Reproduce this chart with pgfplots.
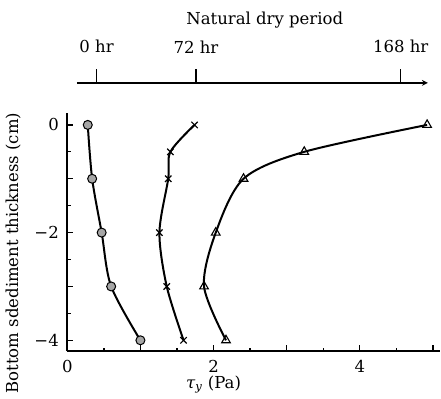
\documentclass[border=0pt]{standalone}
\usepackage{fontspec}
\setmainfont{DejaVu Serif}
\usepackage{pgfplots}
\pgfplotsset{compat=1.18}
\begin{document}
\begin{tikzpicture}[font=\fontsize{16.5}{19}\selectfont]
\begin{axis}[
  scale only axis, width=373pt, height=238pt,
  xmin=0, xmax=5.1, ymin=-4.2, ymax=0.22,
  axis x line*=bottom, axis y line*=left,
  axis line style={line width=1.6pt,-},
  xtick={0,1,2,3,4,5}, xticklabels={},
  ytick={-4,-2,0}, yticklabels={−4,−2,0},
  extra y ticks={-3,-1}, extra y tick labels={},
  minor xtick={0.5,1.5,2.5,3.5,4.5},
  minor ytick={-3.5,-2.5,-1.5,-0.5},
  tick align=inside,
  major tick length=6pt, minor tick length=3.5pt,
  every tick/.style={black, line width=1.3pt},
  tick label style={font=\fontsize{16.5}{19}\selectfont},
  yticklabel style={xshift=-5pt},
  /pgf/number format/assume math mode=true,
  xlabel={\textit{τ}\textsubscript{\textit{y}} (Pa)},
  xlabel style={at={(axis cs:2,-4.2)}, anchor=north, yshift=-21pt},
  ylabel={Bottom sdediment thickness (cm)},
  ylabel style={at={(axis cs:-0.74,-2.38)}, anchor=center, rotate=0},
  clip=false,
]
\addplot[black, line width=2pt, smooth, mark=*, mark size=4.5pt, mark options={fill=gray!70, draw=black, line width=1pt}]
  coordinates {(0.28,0) (0.34,-1) (0.47,-2) (0.60,-3) (1.0,-4)};
\addplot[black, line width=2pt, smooth, mark=x, mark size=4.5pt, mark options={line width=1.2pt}]
  coordinates {(1.74,0) (1.41,-0.5) (1.38,-1) (1.26,-2) (1.36,-3) (1.59,-4)};
\addplot[black, line width=2pt, smooth, mark=triangle, mark size=5pt, mark options={fill=white, line width=1.1pt}]
  coordinates {(4.92,0) (3.24,-0.5) (2.41,-1) (2.03,-2) (1.87,-3) (2.17,-4)};
% x tick labels
\node[anchor=north, yshift=-6pt] at (axis cs:0,-4.2) {0};
\node[anchor=north, yshift=-6pt] at (axis cs:2,-4.2) {2};
\node[anchor=north, yshift=-6pt] at (axis cs:4,-4.2) {4};
% timeline
\draw[line width=1.6pt, -stealth] (axis cs:0.13,0.78) -- (axis cs:4.93,0.78);
\draw[line width=1.3pt] (axis cs:0.40,0.78) -- (axis cs:0.40,1.04);
\draw[line width=1.3pt] (axis cs:1.76,0.78) -- (axis cs:1.76,1.04);
\draw[line width=1.3pt] (axis cs:4.56,0.78) -- (axis cs:4.56,1.04);
\node at (axis cs:0.40,1.45) {0 hr};
\node at (axis cs:1.76,1.45) {72 hr};
\node at (axis cs:4.56,1.45) {168 hr};
\node at (axis cs:2.70,1.95) {Natural dry period};
\coordinate (bl) at (axis cs:-0.92,-5.09);
\coordinate (tr) at (axis cs:5.11,2.32);
\end{axis}
\pgfresetboundingbox
\path[use as bounding box] (bl) rectangle (tr);
\end{tikzpicture}
\end{document}
